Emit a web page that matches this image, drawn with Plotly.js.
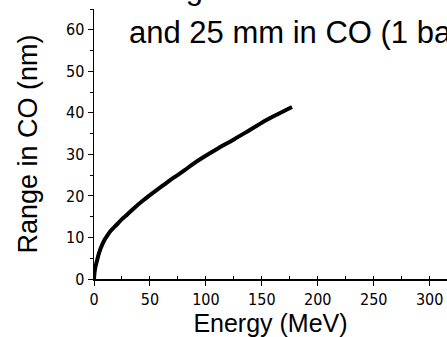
<!DOCTYPE html>
<html>
<head>
<meta charset="utf-8">
<script src="https://cdn.plot.ly/plotly-3.0.1.min.js"></script>
<style>
  html, body { margin: 0; padding: 0; background: #ffffff; }
  #chart { width: 447px; height: 337px; }
</style>
</head>
<body>
<div id="chart"></div>
<script>
// Energy (MeV) and range in CO
var energy = [0, 0.5, 1, 2, 2.8, 4, 6, 9, 12, 15, 20, 25, 30, 36, 43, 50, 58, 66, 74, 81, 89, 97, 110, 125, 140, 155, 165, 177];
var rangeCO = [0, 1.6, 2.5, 3.7, 4.5, 5.8, 7.4, 9.2, 10.5, 11.6, 13.0, 14.4, 15.6, 17.1, 18.7, 20.2, 21.8, 23.4, 24.9, 26.2, 27.8, 29.2, 31.3, 33.6, 36.0, 38.4, 39.8, 41.4];

var titleLines = ["Range of electrons between 5 mm", "and 25 mm in CO (1 bar)"];
var xTitle = "Energy (MeV)";
var yTitle = "Range in CO (nm)";

var tickFamily = "Liberation Sans Narrow, DejaVu Sans Condensed, Arial Narrow, Liberation Sans, sans-serif";
var mainFamily = "Liberation Sans, Arial, sans-serif";

var trace = {
  x: energy,
  y: rangeCO,
  type: "scatter",
  mode: "lines",
  line: { color: "#000000", width: 4, shape: "spline", smoothing: 1 },
  hoverinfo: "skip",
  showlegend: false
};

var titleFont = { family: mainFamily, size: 31, color: "#000000" };

var layout = {
  width: 447,
  height: 337,
  margin: { l: 94, r: 0, t: 9, b: 58, pad: 0 },
  paper_bgcolor: "#ffffff",
  plot_bgcolor: "#ffffff",
  showlegend: false,
  annotations: [
    {
      text: titleLines[0], font: titleFont, showarrow: false,
      xref: "paper", yref: "paper", x: 33 / 353, y: 1.0767,
      xanchor: "left", yanchor: "middle", align: "left"
    },
    {
      text: titleLines[1], font: titleFont, showarrow: false,
      xref: "paper", yref: "paper", x: 33 / 353, y: 0.9137,
      xanchor: "left", yanchor: "middle", align: "left"
    }
  ],
  xaxis: {
    range: [0, 315.5],
    showgrid: false,
    zeroline: false,
    showline: true,
    linecolor: "#000000",
    linewidth: 1.5,
    ticks: "outside",
    ticklen: 5,
    tickwidth: 1,
    tickcolor: "#000000",
    dtick: 50,
    tick0: 0,
    minor: { dtick: 25, ticks: "inside", ticklen: 3, tickwidth: 1, tickcolor: "#000000", showgrid: false },
    tickfont: { family: tickFamily, size: 16, color: "#000000" },
    automargin: false,
    title: { text: xTitle, font: { family: mainFamily, size: 25, color: "#000000" }, standoff: 5 }
  },
  yaxis: {
    range: [0, 65],
    showgrid: false,
    zeroline: false,
    showline: true,
    linecolor: "#000000",
    linewidth: 1.5,
    ticks: "outside",
    ticklen: 5,
    tickwidth: 1,
    tickcolor: "#000000",
    dtick: 10,
    tick0: 0,
    minor: { dtick: 5, ticks: "outside", ticklen: 3, tickwidth: 1, tickcolor: "#000000", showgrid: false },
    tickfont: { family: tickFamily, size: 16, color: "#000000" },
    automargin: false,
    title: { text: yTitle, font: { family: mainFamily, size: 27, color: "#000000" }, standoff: 20 }
  }
};

Plotly.newPlot("chart", [trace], layout, { staticPlot: true, displayModeBar: false });
</script>
</body>
</html>
